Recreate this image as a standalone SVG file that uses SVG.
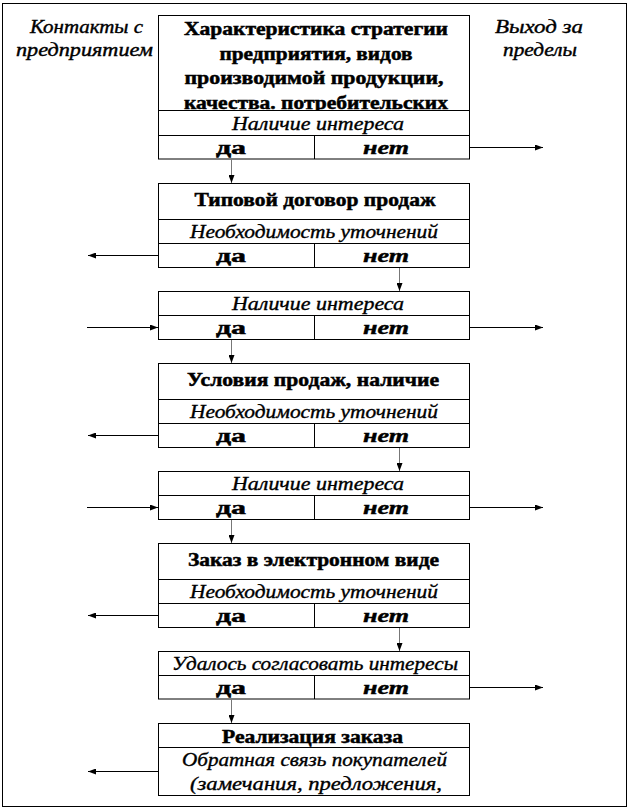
<svg xmlns="http://www.w3.org/2000/svg" width="630" height="810" viewBox="0 0 630 810">
<style>
  .box { fill: #fff; stroke: #000; stroke-width: 1; }
  .ln { stroke: #000; stroke-width: 1; fill: none; }
  text { font-family: 'Liberation Serif', 'Times New Roman', 'DejaVu Serif', serif; fill: #000; text-anchor: middle; }
  .t { font-size: 18px; font-weight: bold; stroke: #000; stroke-width: 0.5; }
  .i { font-size: 18px; font-style: italic; stroke: #000; stroke-width: 0.35; }
  .ib { font-size: 18px; font-style: italic; font-weight: bold; stroke: #000; stroke-width: 0.4; }
  .lab { font-size: 19px; font-style: italic; stroke: #000; stroke-width: 0.4; }
  .h { stroke: #000; stroke-width: 1; fill: none; marker-end: url(#ah); }
  .v { stroke: #777; stroke-width: 1; fill: none; marker-end: url(#ah); }
</style>
<defs>
  <marker id="ah" viewBox="0 0 8 6" refX="8" refY="3" markerWidth="8" markerHeight="6" markerUnits="userSpaceOnUse" orient="auto">
    <path d="M0,0 L8,3 L0,6 z" fill="#000"/>
  </marker>
  <clipPath id="c1"><rect x="158" y="16" width="312" height="94.5"/></clipPath>
</defs>
<rect x="2.5" y="3.5" width="624" height="803" fill="#fff" stroke="#000" stroke-width="1"/>

<g id="label-left">
  <text class="lab" x="86.5" y="33" textLength="113" lengthAdjust="spacingAndGlyphs">Контакты с</text>
  <text class="lab" x="84.5" y="56" textLength="137" lengthAdjust="spacingAndGlyphs">предприятием</text>
</g>
<g id="label-right">
  <text class="lab" x="539" y="33" textLength="88" lengthAdjust="spacingAndGlyphs">Выход за</text>
  <text class="lab" x="540" y="56" textLength="74" lengthAdjust="spacingAndGlyphs">пределы</text>
</g>

<g id="node1">
  <rect class="box" x="158.5" y="15.5" width="311" height="143.5"/>
  <g clip-path="url(#c1)">
    <text class="t" x="316" y="35" textLength="264" lengthAdjust="spacingAndGlyphs">Характеристика  стратегии</text>
    <text class="t" x="316" y="59.5" textLength="193" lengthAdjust="spacingAndGlyphs">предприятия,  видов</text>
    <text class="t" x="314" y="84" textLength="259" lengthAdjust="spacingAndGlyphs">производимой  продукции,</text>
    <text class="t" x="316" y="109" textLength="264" lengthAdjust="spacingAndGlyphs">качества. потребительских</text>
  </g>
  <line class="ln" x1="158.5" y1="110.5" x2="469.5" y2="110.5"/>
  <text class="i" x="318" y="130" textLength="172" lengthAdjust="spacingAndGlyphs">Наличие интереса</text>
  <line class="ln" x1="158.5" y1="135.5" x2="469.5" y2="135.5"/>
  <line class="ln" x1="314.5" y1="135.5" x2="314.5" y2="159"/>
  <text class="t" x="231" y="154" textLength="30" lengthAdjust="spacingAndGlyphs">да</text>
  <text class="ib" x="386" y="154" textLength="46" lengthAdjust="spacingAndGlyphs">нет</text>
</g>

<g id="node2">
  <rect class="box" x="158.5" y="183.5" width="311" height="84"/>
  <text class="t" x="315" y="206" textLength="241" lengthAdjust="spacingAndGlyphs">Типовой договор продаж</text>
  <line class="ln" x1="158.5" y1="219.5" x2="469.5" y2="219.5"/>
  <text class="i" x="314" y="238" textLength="248" lengthAdjust="spacingAndGlyphs">Необходимость уточнений</text>
  <line class="ln" x1="158.5" y1="243.5" x2="469.5" y2="243.5"/>
  <line class="ln" x1="314.5" y1="243.5" x2="314.5" y2="267.5"/>
  <text class="t" x="231" y="262" textLength="30" lengthAdjust="spacingAndGlyphs">да</text>
  <text class="ib" x="386" y="262" textLength="46" lengthAdjust="spacingAndGlyphs">нет</text>
</g>

<g id="node3">
  <rect class="box" x="158.5" y="291.5" width="311" height="48"/>
  <text class="i" x="318" y="310" textLength="172" lengthAdjust="spacingAndGlyphs">Наличие интереса</text>
  <line class="ln" x1="158.5" y1="315.5" x2="469.5" y2="315.5"/>
  <line class="ln" x1="314.5" y1="315.5" x2="314.5" y2="339.5"/>
  <text class="t" x="231" y="334" textLength="30" lengthAdjust="spacingAndGlyphs">да</text>
  <text class="ib" x="386" y="334" textLength="46" lengthAdjust="spacingAndGlyphs">нет</text>
</g>

<g id="node4">
  <rect class="box" x="158.5" y="363.5" width="311" height="84"/>
  <text class="t" x="313" y="386" textLength="252" lengthAdjust="spacingAndGlyphs">Условия продаж, наличие</text>
  <line class="ln" x1="158.5" y1="399.5" x2="469.5" y2="399.5"/>
  <text class="i" x="314" y="418" textLength="248" lengthAdjust="spacingAndGlyphs">Необходимость уточнений</text>
  <line class="ln" x1="158.5" y1="423.5" x2="469.5" y2="423.5"/>
  <line class="ln" x1="314.5" y1="423.5" x2="314.5" y2="447.5"/>
  <text class="t" x="231" y="442" textLength="30" lengthAdjust="spacingAndGlyphs">да</text>
  <text class="ib" x="386" y="442" textLength="46" lengthAdjust="spacingAndGlyphs">нет</text>
</g>

<g id="node5">
  <rect class="box" x="158.5" y="471.5" width="311" height="48"/>
  <text class="i" x="318" y="490" textLength="172" lengthAdjust="spacingAndGlyphs">Наличие интереса</text>
  <line class="ln" x1="158.5" y1="495.5" x2="469.5" y2="495.5"/>
  <line class="ln" x1="314.5" y1="495.5" x2="314.5" y2="519.5"/>
  <text class="t" x="231" y="514" textLength="30" lengthAdjust="spacingAndGlyphs">да</text>
  <text class="ib" x="386" y="514" textLength="46" lengthAdjust="spacingAndGlyphs">нет</text>
</g>

<g id="node6">
  <rect class="box" x="158.5" y="543.5" width="311" height="84"/>
  <text class="t" x="313.5" y="566" textLength="251" lengthAdjust="spacingAndGlyphs">Заказ в электронном  виде</text>
  <line class="ln" x1="158.5" y1="579.5" x2="469.5" y2="579.5"/>
  <text class="i" x="314" y="598" textLength="248" lengthAdjust="spacingAndGlyphs">Необходимость уточнений</text>
  <line class="ln" x1="158.5" y1="603.5" x2="469.5" y2="603.5"/>
  <line class="ln" x1="314.5" y1="603.5" x2="314.5" y2="627.5"/>
  <text class="t" x="231" y="622" textLength="30" lengthAdjust="spacingAndGlyphs">да</text>
  <text class="ib" x="386" y="622" textLength="46" lengthAdjust="spacingAndGlyphs">нет</text>
</g>

<g id="node7">
  <rect class="box" x="158.5" y="651.5" width="311" height="47.5"/>
  <text class="i" x="315" y="670" textLength="286" lengthAdjust="spacingAndGlyphs">Удалось согласовать интересы</text>
  <line class="ln" x1="158.5" y1="675.5" x2="469.5" y2="675.5"/>
  <line class="ln" x1="314.5" y1="675.5" x2="314.5" y2="699"/>
  <text class="t" x="231" y="694" textLength="30" lengthAdjust="spacingAndGlyphs">да</text>
  <text class="ib" x="386" y="694" textLength="46" lengthAdjust="spacingAndGlyphs">нет</text>
</g>

<g id="node8">
  <rect class="box" x="158.5" y="723.5" width="311" height="72"/>
  <text class="t" x="312.5" y="743" textLength="181" lengthAdjust="spacingAndGlyphs">Реализация заказа</text>
  <line class="ln" x1="158.5" y1="747.5" x2="469.5" y2="747.5"/>
  <text class="i" x="314.5" y="766" textLength="265" lengthAdjust="spacingAndGlyphs">Обратная связь покупателей</text>
  <text class="i" x="316" y="790" textLength="252" lengthAdjust="spacingAndGlyphs">(замечания,  предложения,</text>
</g>

<g id="connectors">
  <line class="h" x1="470" y1="147.5" x2="543" y2="147.5"/>
  <line class="v" x1="231.5" y1="159" x2="231.5" y2="183"/>
  <line class="h" x1="158" y1="255.5" x2="88" y2="255.5"/>
  <line class="v" x1="399.5" y1="268" x2="399.5" y2="291"/>
  <line class="h" x1="87" y1="327.5" x2="158" y2="327.5"/>
  <line class="h" x1="470" y1="327.5" x2="543" y2="327.5"/>
  <line class="v" x1="231.5" y1="340" x2="231.5" y2="363"/>
  <line class="h" x1="158" y1="435.5" x2="88" y2="435.5"/>
  <line class="v" x1="399.5" y1="448" x2="399.5" y2="471"/>
  <line class="h" x1="87" y1="507.5" x2="158" y2="507.5"/>
  <line class="h" x1="470" y1="507.5" x2="543" y2="507.5"/>
  <line class="v" x1="231.5" y1="520" x2="231.5" y2="543"/>
  <line class="h" x1="158" y1="615.5" x2="88" y2="615.5"/>
  <line class="v" x1="399.5" y1="628" x2="399.5" y2="651"/>
  <line class="h" x1="470" y1="687.5" x2="543" y2="687.5"/>
  <line class="v" x1="231.5" y1="699.5" x2="231.5" y2="723"/>
  <line class="h" x1="158" y1="771.5" x2="88" y2="771.5"/>
</g>
</svg>
